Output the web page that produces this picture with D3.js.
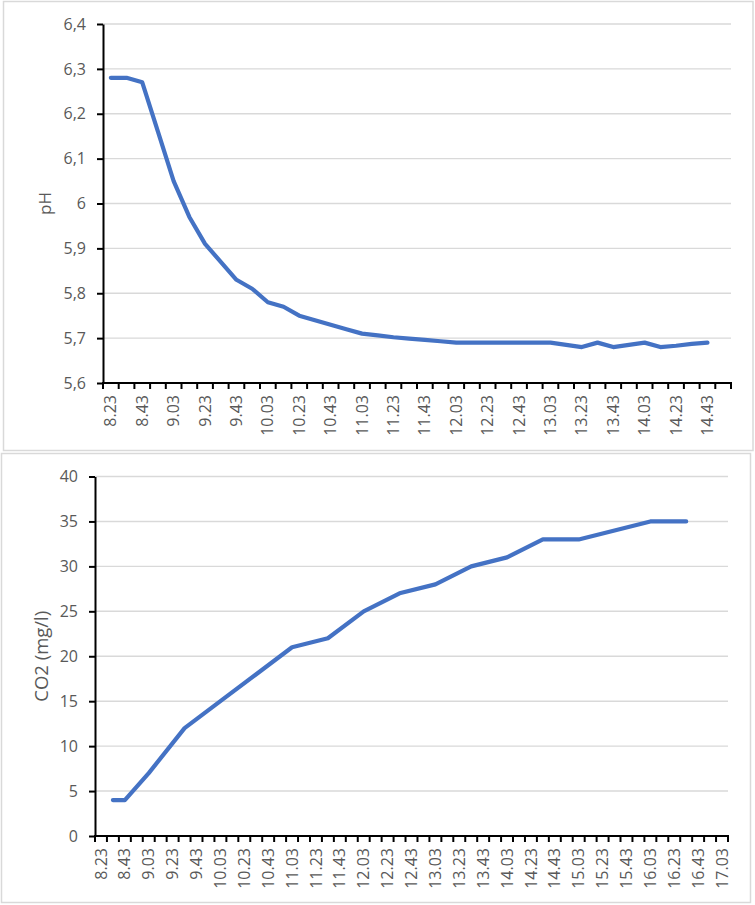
<!DOCTYPE html>
<html>
<head>
<meta charset="utf-8">
<script src="https://cdn.jsdelivr.net/npm/d3@7"></script>
<style>
  html, body { margin: 0; padding: 0; background: #fff; }
  svg { display: block; }
  text { font-family: "Open Sans", "Liberation Sans", sans-serif; }
</style>
</head>
<body>
<svg id="chart" width="755" height="905"></svg>
<script>
// ---------- DATA ----------
const phTimes = ["8.23","8.33","8.43","8.53","9.03","9.13","9.23","9.33","9.43","9.53",
  "10.03","10.13","10.23","10.33","10.43","10.53","11.03","11.13","11.23","11.33",
  "11.43","11.53","12.03","12.13","12.23","12.33","12.43","12.53","13.03","13.13",
  "13.23","13.33","13.43","13.53","14.03","14.13","14.23","14.33","14.43","14.53"];
const phValues = [6.28,6.28,6.27,6.16,6.05,5.97,5.91,5.87,5.83,5.81,
  5.78,5.77,5.75,5.74,5.73,5.72,5.71,5.706,5.702,5.699,
  5.696,5.693,5.69,5.69,5.69,5.69,5.69,5.69,5.69,5.685,
  5.68,5.69,5.68,5.685,5.69,5.68,5.683,5.687,5.69,null];
const phTicks = [5.6,5.7,5.8,5.9,6.0,6.1,6.2,6.3,6.4];

const co2Categories = ["8.23","8.33","8.43","8.53","9.03","9.13","9.23","9.33","9.43","9.53",
  "10.03","10.13","10.23","10.33","10.43","10.53","11.03","11.13","11.23","11.33",
  "11.43","11.53","12.03","12.13","12.23","12.33","12.43","12.53","13.03","13.13",
  "13.23","13.33","13.43","13.53","14.03","14.13","14.23","14.33","14.43","14.53",
  "15.03","15.13","15.23","15.33","15.43","15.53","16.03","16.13","16.23","16.33",
  "16.43","16.53","17.03"];
const co2Times  = ["8.33","8.43","9.03","9.33","10.03","10.33","11.03","11.33","12.03","12.33",
  "13.03","13.33","14.03","14.33","15.03","15.33","16.03","16.33"];
const co2Values = [4,4,7,12,15,18,21,22,25,27,28,30,31,33,33,34,35,35];
const co2Ticks = [0,5,10,15,20,25,30,35,40];

// ---------- DRAW ----------
const svg = d3.select("#chart");
const GRID = "#d9d9d9", TXT = "#595959", LINE = "#4472C4";

function panel(cfg) {
  const g = svg.append("g");
  // outer frame
  g.append("rect").attr("x", cfg.box[0]).attr("y", cfg.box[1])
    .attr("width", cfg.box[2]).attr("height", cfg.box[3])
    .attr("fill", "#fff").attr("stroke", "#d9d9d9").attr("stroke-width", 1.5);

  const x = d3.scaleBand().domain(cfg.categories).range([cfg.left, cfg.right]).paddingInner(0).paddingOuter(0);
  const y = d3.scaleLinear().domain(cfg.yDomain).range([cfg.bottom, cfg.top]);
  const cx = c => x(c) + x.bandwidth() / 2;

  // gridlines
  g.append("g").selectAll("line").data(cfg.yTicks.filter(t => t !== cfg.yDomain[0])).join("line")
    .attr("x1", cfg.left).attr("x2", cfg.right)
    .attr("y1", d => y(d)).attr("y2", d => y(d))
    .attr("stroke", GRID).attr("stroke-width", 1.4);

  // y axis
  const yAxis = d3.axisLeft(y).tickValues(cfg.yTicks).tickSize(6).tickSizeOuter(0)
    .tickPadding(11).tickFormat(cfg.yFormat);
  const ya = g.append("g").attr("transform", `translate(${cfg.left},0)`).call(yAxis);
  ya.select(".domain").attr("stroke", "#000").attr("stroke-width", 2);
  ya.selectAll(".tick line").attr("stroke", "#000").attr("stroke-width", 2);
  ya.selectAll(".tick text").attr("fill", TXT).style("font-size", "16px")
    .style("font-family", "'Open Sans', 'Liberation Sans', sans-serif");

  // x axis line and category boundary ticks
  const n = cfg.categories.length;
  g.append("line").attr("x1", cfg.left - 1).attr("x2", cfg.right + 1)
    .attr("y1", cfg.bottom).attr("y2", cfg.bottom)
    .attr("stroke", "#000").attr("stroke-width", 2);
  g.append("g").selectAll("line").data(d3.range(n + 1)).join("line")
    .attr("x1", i => cfg.left + i * x.step()).attr("x2", i => cfg.left + i * x.step())
    .attr("y1", cfg.bottom).attr("y2", cfg.bottom + 6)
    .attr("stroke", "#000").attr("stroke-width", 2);

  // x labels (every other category)
  g.append("g").selectAll("text").data(cfg.categories.filter((c, i) => i % 2 === 0)).join("text")
    .attr("transform", c => `translate(${cx(c)},${cfg.bottom + 12}) rotate(-90)`)
    .attr("text-anchor", "end").attr("dy", "0.35em")
    .attr("fill", TXT).style("font-size", "16px")
    .text(c => c);

  // axis title
  g.append("text")
    .attr("transform", `translate(${cfg.titleX},${(cfg.top + cfg.bottom) / 2}) rotate(-90)`)
    .attr("text-anchor", "middle").attr("dy", "0.35em")
    .attr("fill", TXT).style("font-size", cfg.titleSize)
    .text(cfg.title);

  // series line
  const pts = cfg.points.filter(p => p[1] != null);
  g.append("path").datum(pts)
    .attr("d", d3.line().x(p => cx(p[0])).y(p => y(p[1])))
    .attr("fill", "none").attr("stroke", LINE).attr("stroke-width", 4.2)
    .attr("stroke-linejoin", "round").attr("stroke-linecap", "round");
}

const commaFmt = d => String(+d.toFixed(1)).replace(".", ",");

panel({
  box: [3.5, 1.5, 749.5, 449],
  left: 103, right: 731, top: 24, bottom: 383,
  categories: phTimes,
  yDomain: [5.6, 6.4], yTicks: phTicks, yFormat: commaFmt,
  title: "pH", titleX: 45, titleSize: "17px",
  points: phTimes.map((t, i) => [t, phValues[i]])
});

panel({
  box: [1.5, 453.5, 749, 449],
  left: 95, right: 728, top: 476.5, bottom: 836,
  categories: co2Categories,
  yDomain: [0, 40], yTicks: co2Ticks, yFormat: d => String(d),
  title: "CO2 (mg/l)", titleX: 42, titleSize: "18.5px",
  points: co2Times.map((t, i) => [t, co2Values[i]])
});
</script>
</body>
</html>
